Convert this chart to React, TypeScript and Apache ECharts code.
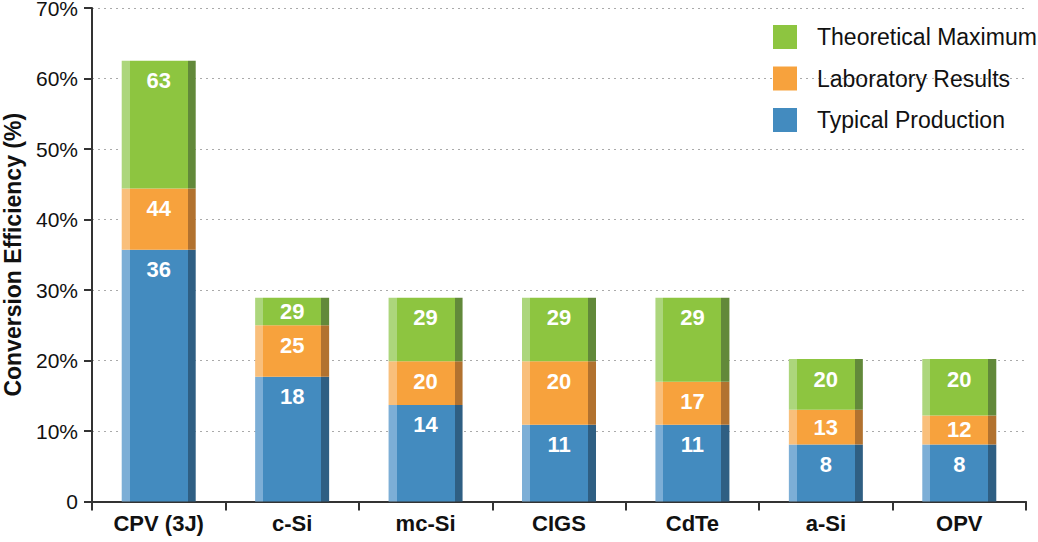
import React, { useEffect, useRef } from "react";
import * as echarts from "echarts";

const categories = ["CPV (3J)", "c-Si", "mc-Si", "CIGS", "CdTe", "a-Si", "OPV"];
const typical = [35.7, 17.7, 13.7, 10.9, 10.9, 8.1, 8.1];
const laboratory = [44.4, 25.0, 19.9, 19.9, 17.0, 13.0, 12.2];
const theoretical = [62.5, 28.9, 28.9, 28.9, 28.9, 20.2, 20.2];
const yTicks = [0, 10, 20, 30, 40, 50, 60, 70];

const FONT = "'Liberation Sans', Arial, Helvetica, sans-serif";

const palette = {
  typical: { main: "#438bbf", light: "#7caed6", dark: "#2f5f83" },
  laboratory: { main: "#f7a23d", light: "#f9bf7b", dark: "#b2722f" },
  theoretical: { main: "#8dc540", light: "#acd67c", dark: "#62893a" },
};

function shade(c: { main: string; light: string; dark: string }) {
  const s = 0.108;
  return new echarts.graphic.LinearGradient(0, 0, 1, 0, [
    { offset: 0, color: c.light },
    { offset: s, color: c.light },
    { offset: s, color: c.main },
    { offset: 1 - s, color: c.main },
    { offset: 1 - s, color: c.dark },
    { offset: 1, color: c.dark },
  ]);
}

function makeSeries(
  name: string,
  tops: number[],
  bases: number[] | null,
  colors: { main: string; light: string; dark: string }
) {
  return {
    name,
    type: "bar",
    stack: "eff",
    barWidth: 74,
    itemStyle: { color: shade(colors) },
    label: {
      show: true,
      color: "#ffffff",
      fontFamily: FONT,
      fontWeight: "bold",
      fontSize: 22,
      lineHeight: 22,
      distance: 9,
      formatter: (p: any) => String(Math.round(tops[p.dataIndex])),
    },
    data: tops.map((t, i) => {
      const seg = +(t - (bases ? bases[i] : 0)).toFixed(2);
      return {
        value: seg,
        label: { position: seg < 6 ? "inside" : "insideTop" },
      };
    }),
  };
}

export default function App() {
  const ref = useRef<HTMLDivElement>(null);
  useEffect(() => {
    if (!ref.current) return;
    const chart = echarts.init(ref.current, null, { renderer: "svg" });
    chart.setOption({
      animation: false,
      backgroundColor: "#ffffff",
      grid: {
        left: 92,
        right: 12,
        top: 8,
        bottom: 40.5,
        containLabel: false,
        outerBoundsMode: "none",
      },
      legend: {
        orient: "vertical",
        left: 773,
        top: 25,
        padding: 0,
        itemWidth: 24,
        itemHeight: 24,
        itemGap: 17.5,
        icon: "rect",
        textStyle: { fontFamily: FONT, fontSize: 23, color: "#111", padding: [0, 0, 0, 15] },
        data: [
          { name: "Theoretical Maximum", itemStyle: { color: palette.theoretical.main } },
          { name: "Laboratory Results", itemStyle: { color: palette.laboratory.main } },
          { name: "Typical Production", itemStyle: { color: palette.typical.main } },
        ],
      },
      xAxis: {
        type: "category",
        data: categories,
        axisLine: { lineStyle: { color: "#333", width: 2 } },
        axisTick: { show: true, length: 9, lineStyle: { color: "#333", width: 2 } },
        axisLabel: {
          fontFamily: FONT,
          fontWeight: "bold",
          fontSize: 22,
          color: "#111",
          margin: 11,
        },
      },
      yAxis: {
        type: "value",
        min: yTicks[0],
        max: yTicks[yTicks.length - 1],
        interval: 10,
        name: "Conversion Efficiency (%)",
        nameLocation: "middle",
        nameRotate: 90,
        nameGap: 68,
        nameTextStyle: { fontFamily: FONT, fontWeight: "bold", fontSize: 23, color: "#111" },
        axisLine: { show: true, lineStyle: { color: "#333", width: 2 } },
        axisTick: { show: true, length: 8, lineStyle: { color: "#333", width: 2 } },
        axisLabel: {
          fontFamily: FONT,
          fontSize: 21,
          color: "#111",
          margin: 14,
          formatter: (v: number) => (v === 0 ? "0" : v + "%"),
        },
        splitLine: { show: true, lineStyle: { color: "#aaa", type: [2, 4], width: 1 } },
      },
      series: [
        makeSeries("Typical Production", typical, null, palette.typical),
        makeSeries("Laboratory Results", laboratory, typical, palette.laboratory),
        makeSeries("Theoretical Maximum", theoretical, laboratory, palette.theoretical),
      ],
    });
    return () => chart.dispose();
  }, []);
  return (
    <div
      ref={ref}
      style={{ position: "fixed", left: 0, top: 0, width: 1038, height: 542 }}
    />
  );
}
